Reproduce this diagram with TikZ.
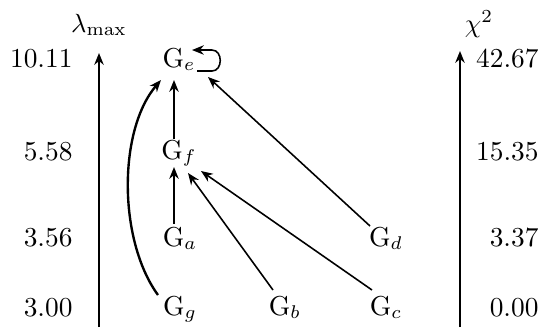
\documentclass[tikz,border=0pt]{standalone}
\usetikzlibrary{arrows.meta,calc}
\begin{document}
\begin{tikzpicture}[x=0.38pt,y=-0.38pt,
  val/.style={anchor=base east,inner sep=0pt,font=\fontsize{10.4}{12}\selectfont},
  gnode/.style={anchor=base,inner sep=0pt,font=\fontsize{10.4}{12}\selectfont},
  edge/.style={line width=0.6pt,-{Stealth[length=4.5pt,width=3.6pt]}},
  axis/.style={line width=0.7pt,-{Stealth[length=4.5pt,width=3.6pt]}}]
\useasboundingbox (0,0) rectangle (545,327);
% axes
\coordinate (lb) at (99,327);
\coordinate (lt) at (99,53);
\coordinate (rb) at (460,327);
\coordinate (rt) at (460,51);
\draw[axis] (lb) -- (lt);
\draw[axis] (rb) -- (rt);
\node[gnode] (lam) at (99,32) {$\lambda_{\max}$};
\node[gnode] (chi) at (479,32) {$\chi^2$};
% left values
\node[val] (l1) at (73,67) {10.11};
\node[val] (l2) at (73,160) {5.58};
\node[val] (l3) at (73,246) {3.56};
\node[val] (l4) at (73,316) {3.00};
% right values
\node[val] (r1) at (539,67) {42.67};
\node[val] (r2) at (539,160) {15.35};
\node[val] (r3) at (539,246) {3.37};
\node[val] (r4) at (539,316) {0.00};
% graph nodes
\node[gnode] (Ge) at (179,67) {G$_e$};
\node[gnode] (Gf) at (179,159) {G$_f$};
\node[gnode] (Ga) at (180,246) {G$_a$};
\node[gnode] (Gd) at (386,246) {G$_d$};
\node[gnode] (Gg) at (180,315) {G$_g$};
\node[gnode] (Gb) at (285,315) {G$_b$};
\node[gnode] (Gc) at (386,315) {G$_c$};
% edges
\draw[edge] ($(Ge.base)+(18,4)$) -- ++(15,0)
  .. controls +(11,0) and +(11,0) .. ($(Ge.base)+(33,-17)$) -- ($(Ge.base)+(13,-17)$);
\draw[edge] ($(Gf.base)+(-5,-20)$) -- ($(Ge.base)+(-5,13)$);
\draw[edge,line width=0.9pt] ($(Gg.base)+(-22,-20)$) .. controls +(-40,-55) and +(-43,50) .. ($(Ge.base)+(-18,13)$);
\draw[edge] ($(Gd.base)+(-16,-20)$) -- ($(Ge.base)+(29,10)$);
\draw[edge] ($(Ga.base)+(-6,-22)$) -- ($(Gf.base)+(-5,8)$);
\draw[edge] ($(Gb.base)+(-12,-25)$) -- ($(Gf.base)+(9,14)$);
\draw[edge] ($(Gc.base)+(-14,-25)$) -- ($(Gf.base)+(22,12)$);
\end{tikzpicture}
\end{document}
